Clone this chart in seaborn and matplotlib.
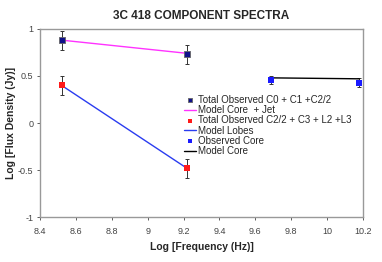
import numpy as np
import pandas as pd
import matplotlib
matplotlib.use("Agg")
import matplotlib.pyplot as plt
import seaborn as sns

# data
freq_jet = [8.52, 9.22]
flux_jet = [0.88, 0.73]
err_jet = [0.10, 0.10]
model_jet = [0.88, 0.74]

freq_lobes = [8.52, 9.22]
flux_lobes = [0.40, -0.48]
err_lobes = [0.10, 0.10]
model_lobes = [0.40, -0.48]

freq_core = [9.69, 10.18]
flux_core = [0.46, 0.43]
err_core = [0.04, 0.05]
model_core = [0.48, 0.47]

sns.set_style("white")
plt.rcParams['font.family'] = ['Liberation Sans', 'DejaVu Sans']

fig, ax = plt.subplots(figsize=(3.82, 2.62), dpi=100)
fig.subplots_adjust(left=0.105, right=0.95, top=0.89, bottom=0.17)

for fx, fy, fe in [(freq_jet, flux_jet, err_jet),
                   (freq_lobes, flux_lobes, err_lobes),
                   (freq_core, flux_core, err_core)]:
    ax.errorbar(fx, fy, yerr=fe, fmt='none', ecolor='#333333',
                elinewidth=0.7, capsize=1.5, capthick=0.7)

sns.scatterplot(x=freq_jet, y=flux_jet, marker='s', s=20, color='#10108a',
                edgecolor='#666666', linewidth=0.6, ax=ax, zorder=4,
                label='Total Observed C0 + C1 +C2/2')
sns.lineplot(x=freq_jet, y=model_jet, color='#ff33ff', linewidth=1.0, ax=ax,
             label='Model Core  + Jet')
sns.scatterplot(x=freq_lobes, y=flux_lobes, marker='s', s=20, color='#ff1a1a',
                linewidth=0, ax=ax, zorder=4,
                label='Total Observed C2/2 + C3 + L2 +L3')
sns.lineplot(x=freq_lobes, y=model_lobes, color='#2a3cf0', linewidth=1.0, ax=ax,
             label='Model Lobes')
sns.scatterplot(x=freq_core, y=flux_core, marker='s', s=20, color='#1a1aff',
                linewidth=0, ax=ax, zorder=4, label='Observed Core')
sns.lineplot(x=freq_core, y=model_core, color='black', linewidth=1.0, ax=ax,
             label='Model Core')

ax.set_xlim(8.4, 10.2)
ax.set_ylim(-1, 1)
ax.set_xticks(np.arange(8.4, 10.21, 0.2))
ax.set_xticklabels(['8.4', '8.6', '8.8', '9', '9.2', '9.4', '9.6', '9.8', '10', '10.2'])
ax.set_yticks([-1, -0.5, 0, 0.5, 1])
ax.set_yticklabels(['-1', '-0.5', '0', '0.5', '1'])
ax.tick_params(axis='both', labelsize=6.5, colors='#444444', length=2, width=0.6,
               direction='out', bottom=True, left=True)
ax.tick_params(axis='x', pad=5)
ax.tick_params(axis='y', pad=3)
for sp in ax.spines.values():
    sp.set_color('#999999')
    sp.set_linewidth(1.0)

ax.set_title('3C 418 COMPONENT SPECTRA', fontsize=8.5, fontweight='bold', pad=7)
ax.set_xlabel('Log [Frequency (Hz)]', fontsize=7.5, fontweight='bold', labelpad=4.5)
ax.set_ylabel('Log [Flux Density (Jy)]', fontsize=7.5, fontweight='bold', labelpad=1)

leg = ax.legend(loc='upper left', bbox_to_anchor=(0.43, 0.675), frameon=False,
                fontsize=7.0, handlelength=1.3, handletextpad=0.2,
                labelspacing=0.02, borderpad=0, markerscale=0.7)

fig.savefig('out.png', dpi=100)
